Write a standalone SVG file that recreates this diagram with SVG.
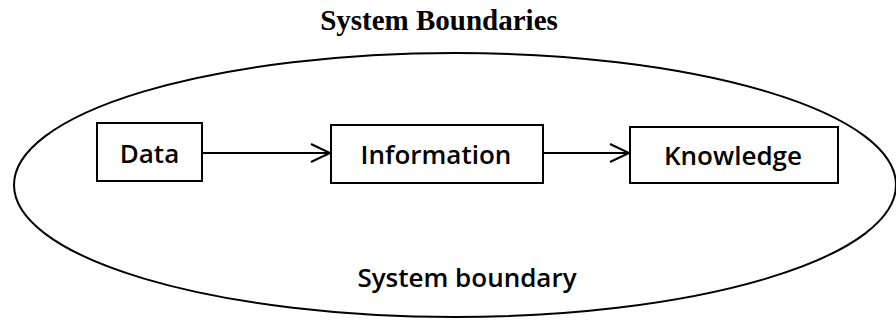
<svg xmlns="http://www.w3.org/2000/svg" width="896" height="320" viewBox="0 0 896 320">
<style>
.box{fill:#fff;stroke:#000;stroke-width:2}
.lbl{font-family:"Open Sans","Noto Sans",sans-serif;font-weight:600;font-size:26px;fill:#000;text-anchor:middle}
.conn{stroke:#000;stroke-width:2;fill:none}
</style>
<defs>
<marker id="arr" markerWidth="24" markerHeight="22" refX="20" refY="10" orient="auto" markerUnits="userSpaceOnUse">
<path d="M1,1 L20,10 L1,19" fill="none" stroke="#000" stroke-width="2"/>
</marker>
</defs>
<rect width="896" height="320" fill="#fff"/>
<text x="439" y="30" font-family="Liberation Serif,serif" font-weight="bold" font-size="29" text-anchor="middle">System Boundaries</text>
<g id="boundary">
<ellipse cx="455" cy="185" rx="441" ry="132" fill="none" stroke="#000" stroke-width="2"/>
<text class="lbl" x="467" y="287">System boundary</text>
</g>
<g id="data"><rect class="box" x="97" y="123" width="105" height="58"/><text class="lbl" x="149.5" y="163">Data</text></g>
<g id="information"><rect class="box" x="331" y="125" width="212" height="58"/><text class="lbl" x="436" y="164">Information</text></g>
<g id="knowledge"><rect class="box" x="630" y="127" width="208" height="56"/><text class="lbl" x="733" y="165">Knowledge</text></g>
<g id="connectors">
<line class="conn" x1="202" y1="153" x2="330" y2="153" marker-end="url(#arr)"/>
<line class="conn" x1="543" y1="153" x2="629" y2="153" marker-end="url(#arr)"/>
</g>
</svg>
